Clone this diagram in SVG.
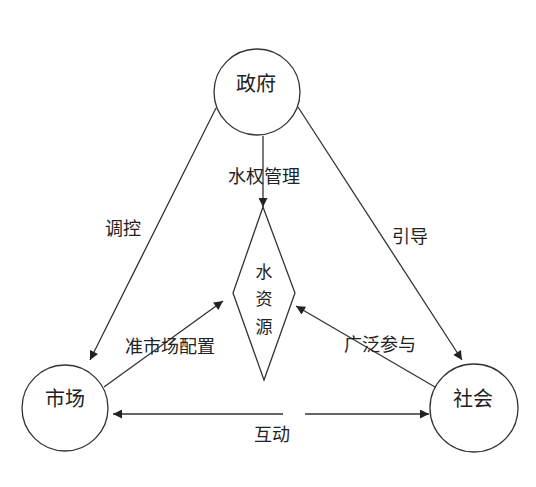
<svg xmlns="http://www.w3.org/2000/svg" width="536" height="487" viewBox="0 0 536 487">
<style>
.node{fill:#fff;stroke:#333;stroke-width:1.3}
.lbl{font-family:"Noto Sans CJK SC","Noto Sans",sans-serif;fill:#222;text-anchor:middle;dominant-baseline:central}
.edge{stroke:#333;stroke-width:1.3;fill:none}
</style>
<defs>
<marker id="ah" viewBox="0 0 10 10" refX="10" refY="5" markerWidth="11" markerHeight="9" markerUnits="userSpaceOnUse" orient="auto-start-reverse">
<path d="M0,0 L10,5 L0,10 z" fill="#222"/>
</marker>
</defs>
<rect width="536" height="487" fill="#fff"/>
<g id="connectors">
<line class="edge" x1="216" y1="108" x2="90" y2="360" marker-end="url(#ah)"/>
<line class="edge" x1="298" y1="107" x2="462" y2="360" marker-end="url(#ah)"/>
<line class="edge" x1="263" y1="136" x2="263" y2="207" marker-end="url(#ah)"/>
<line class="edge" x1="104" y1="387" x2="223" y2="301" marker-end="url(#ah)"/>
<line class="edge" x1="435" y1="387" x2="296" y2="306" marker-end="url(#ah)"/>
<line class="edge" x1="283" y1="414" x2="113" y2="414" marker-end="url(#ah)"/>
<line class="edge" x1="305" y1="414" x2="429" y2="414" marker-end="url(#ah)"/>
<text class="lbl" x="123" y="227" font-size="18">调控</text>
<text class="lbl" x="410" y="235" font-size="18">引导</text>
<text class="lbl" x="264" y="175" font-size="18">水权管理</text>
<text class="lbl" x="170" y="345" font-size="18">准市场配置</text>
<text class="lbl" x="380" y="343" font-size="18">广泛参与</text>
<text class="lbl" x="272" y="433" font-size="18">互动</text>
</g>
<g id="gov">
<circle class="node" cx="257" cy="92" r="43"/>
<text class="lbl" x="256" y="82" font-size="20">政府</text>
</g>
<g id="water">
<polygon class="node" points="263,207 295,293 264,380 233,293"/>
<text class="lbl" x="264" y="270" font-size="17">水</text>
<text class="lbl" x="264" y="297" font-size="17">资</text>
<text class="lbl" x="264" y="325" font-size="17">源</text>
</g>
<g id="market">
<circle class="node" cx="65" cy="408" r="43"/>
<text class="lbl" x="65" y="397" font-size="20">市场</text>
</g>
<g id="society">
<circle class="node" cx="474" cy="408" r="44"/>
<text class="lbl" x="473" y="397" font-size="20">社会</text>
</g>
</svg>
